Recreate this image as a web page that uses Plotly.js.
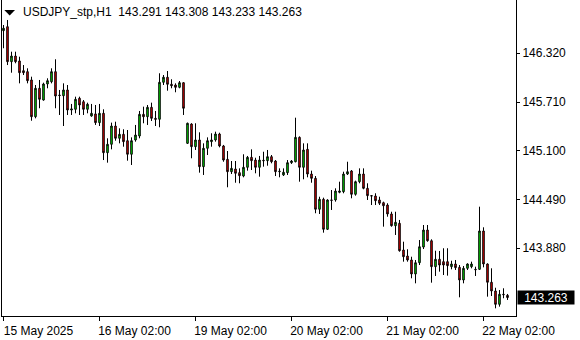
<!DOCTYPE html>
<html>
<head>
<meta charset="utf-8">
<script src="https://cdn.plot.ly/plotly-3.0.1.min.js"></script>
<style>html,body{margin:0;padding:0;background:#fff;}#chart{width:580px;height:340px;}</style>
</head>
<body>
<div id="chart"></div>
<script>
// USDJPY_stp H1 candles, 15 May 2025 02:00 .. 22 May 2025 08:00
const openP = [146.603,146.653,146.215,146.286,146.224,146.102,146.090,145.986,145.526,145.882,
145.735,145.936,145.964,146.090,145.798,145.789,145.861,145.610,145.619,145.757,
145.714,145.619,145.535,145.561,145.452,145.569,145.076,145.181,145.410,145.256,
145.306,145.226,145.056,145.235,145.285,145.556,145.526,145.644,145.506,145.494,
145.957,146.020,145.932,145.923,145.894,145.952,145.193,145.435,145.151,145.235,
144.901,145.131,145.214,145.235,145.310,145.160,144.993,144.838,144.872,144.826,
144.784,144.893,145.018,144.984,144.893,144.981,144.976,145.026,144.972,144.838,
144.797,144.826,144.951,144.963,145.268,144.893,145.118,144.809,144.755,144.368,
144.493,144.117,144.484,144.484,144.580,144.588,144.809,144.847,144.555,144.713,
144.809,144.630,144.538,144.534,144.484,144.450,144.421,144.309,144.162,144.192,
143.858,143.783,143.733,143.558,143.699,143.895,144.108,143.974,143.649,143.742,
143.712,143.712,143.649,143.683,143.641,143.483,143.629,143.649,143.616,143.616,
144.096,143.683,143.454,143.345,143.178,143.304,143.291];
const highP = [146.674,146.737,146.340,146.340,146.277,146.173,146.132,146.027,145.923,145.986,
145.952,146.007,146.132,146.245,145.861,145.944,145.923,145.686,145.777,145.777,
145.735,145.702,145.686,145.673,145.686,145.619,145.256,145.452,145.464,145.381,
145.369,145.360,145.268,145.423,145.598,145.652,145.673,145.702,145.598,146.070,
146.048,146.098,145.995,145.944,145.973,145.957,145.452,145.444,145.444,145.331,
145.193,145.268,145.319,145.339,145.326,145.173,145.097,144.972,144.972,144.880,
145.056,145.035,145.118,145.013,145.035,145.088,145.110,145.047,144.984,144.880,
144.880,144.984,144.984,145.514,145.280,145.193,145.193,144.851,144.784,144.525,
144.513,144.493,144.609,144.630,144.713,144.838,144.963,144.859,144.726,144.880,
144.880,144.693,144.546,144.568,144.525,144.463,144.443,144.337,144.337,144.234,
143.962,143.867,143.774,143.733,143.983,144.171,144.171,143.992,143.849,143.846,
143.880,143.880,143.724,143.733,143.670,143.658,143.691,143.712,143.649,144.400,
144.142,143.690,143.629,143.386,143.357,143.379,143.308];
const lowP = [146.383,146.173,146.077,146.195,145.944,146.048,145.944,145.476,145.506,145.632,
145.727,145.882,145.944,145.632,145.548,145.410,145.548,145.548,145.569,145.548,
145.548,145.569,145.526,145.423,145.410,144.984,144.951,145.118,145.226,145.193,
145.151,144.976,144.922,145.214,145.256,145.444,145.423,145.473,145.410,145.394,
145.923,145.852,145.882,145.832,145.882,145.548,145.185,145.006,145.110,144.826,
144.797,145.047,145.151,145.214,145.143,144.963,144.643,144.809,144.700,144.693,
144.768,144.851,144.859,144.818,144.776,144.901,144.913,144.943,144.784,144.768,
144.784,144.797,144.935,144.955,144.713,144.743,144.768,144.700,144.318,144.309,
144.075,144.108,144.359,144.463,144.568,144.568,144.797,144.505,144.538,144.693,
144.618,144.484,144.421,144.421,144.421,144.150,144.275,144.150,144.046,143.837,
143.712,143.712,143.504,143.441,143.670,143.870,143.962,143.449,143.533,143.587,
143.545,143.537,143.616,143.608,143.266,143.441,143.608,143.629,143.533,143.608,
143.641,143.274,143.282,143.128,143.149,143.254,143.233];
const closeP = [146.633,146.215,146.286,146.215,146.077,146.077,145.977,145.526,145.882,145.744,
145.936,145.977,146.090,145.785,145.792,145.861,145.610,145.623,145.744,145.673,
145.619,145.682,145.569,145.452,145.569,145.076,145.181,145.410,145.256,145.306,
145.214,145.056,145.226,145.297,145.556,145.526,145.644,145.506,145.494,145.957,
146.020,145.932,145.914,145.894,145.952,145.632,145.444,145.151,145.235,144.901,
145.131,145.226,145.235,145.310,145.160,144.984,144.838,144.880,144.818,144.788,
144.893,145.018,144.976,144.893,144.984,144.976,145.026,144.963,144.838,144.843,
144.831,144.951,144.972,145.268,144.893,145.110,144.809,144.755,144.368,144.493,
144.117,144.484,144.480,144.596,144.596,144.809,144.838,144.555,144.713,144.809,
144.630,144.538,144.534,144.475,144.443,144.412,144.309,144.162,144.205,143.849,
143.774,143.733,143.558,143.699,143.899,144.108,143.974,143.649,143.742,143.670,
143.670,143.662,143.683,143.637,143.483,143.629,143.683,143.683,143.612,144.096,
143.683,143.454,143.345,143.178,143.304,143.299,143.263];

const xTickBars = [0, 24, 48, 72, 96, 120];
const xTickLabels = ['15 May 2025', '16 May 02:00', '19 May 02:00', '20 May 02:00', '21 May 02:00', '22 May 02:00'];
const yTickVals = [146.320, 145.710, 145.100, 144.490, 143.880];
const symbol = 'USDJPY_stp,H1';
const lastBar = {open: 143.291, high: 143.308, low: 143.233, close: 143.263};

const barIdx = openP.map((_, i) => i);
const FONT = 'Liberation Sans, Arial, sans-serif';

const trace = {
  type: 'candlestick',
  x: barIdx,
  open: openP, high: highP, low: lowP, close: closeP,
  increasing: {line: {color: '#000000', width: 1}, fillcolor: '#00ff00'},
  decreasing: {line: {color: '#000000', width: 1}, fillcolor: '#ff0000'},
  whiskerwidth: 0,
  hoverinfo: 'skip'
};

const layout = {
  width: 580, height: 340,
  margin: {l: 2, r: 64, t: 0, b: 24, pad: 0},
  paper_bgcolor: '#ffffff', plot_bgcolor: '#ffffff',
  showlegend: false,
  boxgap: 0.45,
  font: {family: FONT, size: 12, color: '#000000'},
  xaxis: {
    type: 'linear',
    range: [-0.375, 128.125],
    rangeslider: {visible: false},
    showgrid: false, zeroline: false,
    showline: true, linecolor: '#000000', linewidth: 1,
    ticks: 'outside', ticklen: 4, tickcolor: '#000000', tickwidth: 1,
    tickmode: 'array', tickvals: xTickBars, ticktext: xTickLabels,
    ticklabelshift: 35,
    tickfont: {family: FONT, size: 12, color: '#000000'},
    fixedrange: true
  },
  yaxis: {
    side: 'right',
    range: [143.032, 146.987],
    showgrid: false, zeroline: false,
    showline: true, mirror: true, linecolor: '#000000', linewidth: 1,
    ticks: 'outside', ticklen: 3, tickcolor: '#000000', tickwidth: 1,
    tickmode: 'array', tickvals: yTickVals, ticktext: yTickVals.map(v => v.toFixed(3)),
    tickfont: {family: FONT, size: 12, color: '#000000'},
    fixedrange: true
  },
  shapes: [{
    type: 'path', xref: 'paper', yref: 'paper',
    xsizemode: 'pixel', ysizemode: 'pixel', xanchor: 0, yanchor: 1,
    path: 'M 2.3 -10 L 13 -10 L 7.7 -15.5 Z',
    fillcolor: '#000000', line: {width: 0}
  }],
  annotations: [
    {
      xref: 'paper', yref: 'paper', x: 0, y: 1, xanchor: 'left', yanchor: 'top',
      xshift: 18.5, yshift: -3, showarrow: false,
      text: symbol + '\u00a0\u00a0' + [lastBar.open, lastBar.high, lastBar.low, lastBar.close].map(v => v.toFixed(3)).join(' '),
      font: {family: FONT, size: 12, color: '#000000'}
    },
    {
      xref: 'paper', yref: 'y', x: 1, y: lastBar.close, xanchor: 'left', yanchor: 'middle',
      xshift: 1, showarrow: false, text: lastBar.close.toFixed(3),
      bgcolor: '#000000', width: 54, height: 11, borderpad: 1,
      font: {family: FONT, size: 12, color: '#ffffff'}
    }
  ]
};

Plotly.newPlot('chart', [trace], layout, {staticPlot: true, displayModeBar: false});
</script>
</body>
</html>
